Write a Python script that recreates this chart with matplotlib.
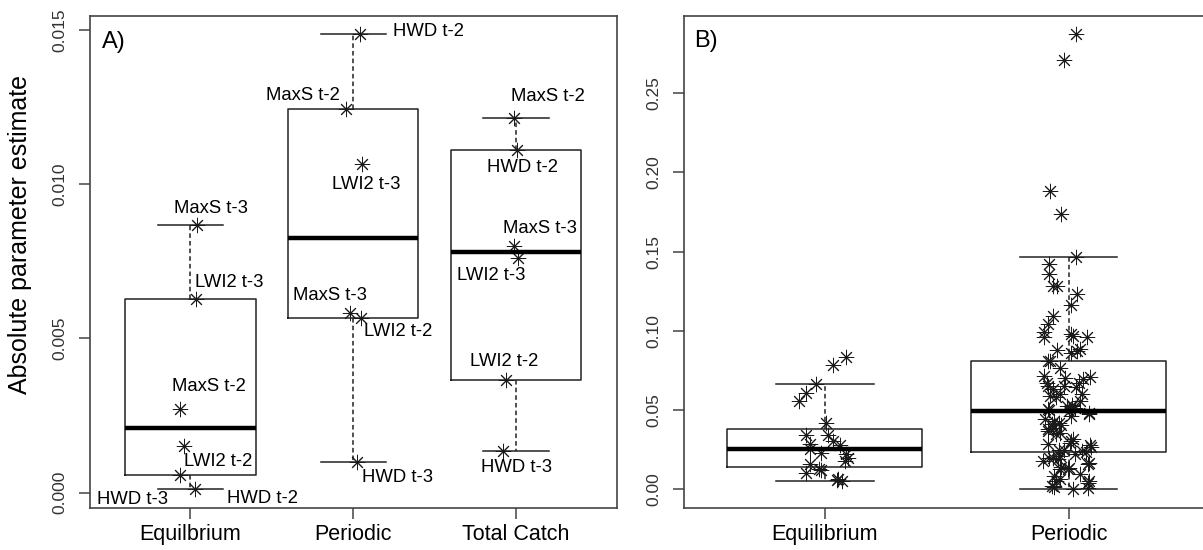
import numpy as np
import matplotlib
matplotlib.use('Agg')
import matplotlib.pyplot as plt

plt.rcParams['font.family'] = ['Liberation Sans', 'DejaVu Sans']

# ---- Panel A data: six lagged covariates per group ----
groups_a = ['Equilbrium', 'Periodic', 'Total Catch']
covariates = ['HWD t-2', 'HWD t-3', 'LWI2 t-2', 'LWI2 t-3', 'MaxS t-2', 'MaxS t-3']
equil_a = [0.000107, 0.00057, 0.001509, 0.00628, 0.002697, 0.008663]
periodic_a = [0.01486, 0.000991, 0.005665, 0.01066, 0.01243, 0.005827]
total_a = [0.01111, 0.001347, 0.003645, 0.007608, 0.01214, 0.007983]
# horizontal jitter (fraction of group spacing)
equil_a_jit = [0.031, -0.064, -0.038, 0.036, -0.064, 0.042]
periodic_a_jit = [0.041, 0.026, 0.047, 0.051, -0.044, -0.021]
total_a_jit = [0.004, -0.081, -0.059, 0.010, -0.015, -0.015]

# label offsets in pixels (dx, dy) from each point
label_offsets = [
    [(67, -9), (-47, -24), (34, -15), (33, 16), (29, 23), (14, 17)],
    [(69, 3), (40, -15), (37, -14), (5, -21), (-43, 14), (-20, 17)],
    [(6, -18), (14, -16), (-2, 19), (-26, -18), (34, 22), (26, 18)],
]

# ---- Panel B data ----
groups_b = ['Equilibrium', 'Periodic']
equil_b = [0.0838, 0.0785, 0.0667, 0.0610, 0.0557, 0.0417, 0.0343, 0.0343,
           0.0305, 0.0284, 0.0278, 0.0253, 0.0232, 0.0221, 0.0196, 0.0179,
           0.0162, 0.0125, 0.0120, 0.0101, 0.0068, 0.0051, 0.0060]
equil_b_jit = [0.087, 0.035, -0.035, -0.076, -0.106, 0.005, -0.079, 0.011,
               0.032, -0.063, 0.063, -0.063, -0.016, 0.087, 0.094, 0.082,
               -0.060, -0.024, -0.016, -0.076, 0.055, 0.071, 0.050]
periodic_b = [0.2872, 0.2708, 0.1882, 0.1735, 0.1468, 0.1420, 0.1357, 0.1283,
              0.1283, 0.1230, 0.1163, 0.1094, 0.1041, 0.0993, 0.0963, 0.0978,
              0.0967, 0.0961, 0.0888, 0.0875, 0.0858, 0.0877, 0.0812, 0.0808,
              0.0768, 0.0715, 0.0709, 0.0705, 0.0694, 0.0673, 0.0673, 0.0655,
              0.0650, 0.0648, 0.0631, 0.0599, 0.0599, 0.0590, 0.0583, 0.0560,
              0.0535, 0.0526, 0.0526, 0.0515, 0.0505, 0.0498, 0.0494, 0.0484,
              0.0478, 0.0465, 0.0442, 0.0430, 0.0420, 0.0410, 0.0405, 0.0389,
              0.0380, 0.0368, 0.0358, 0.0350, 0.0316, 0.0305, 0.0295, 0.0284,
              0.0280, 0.0265, 0.0250, 0.0245, 0.0240, 0.0236, 0.0221, 0.0210,
              0.0200, 0.0195, 0.0190, 0.0179, 0.0165, 0.0158, 0.0140, 0.0135,
              0.0126, 0.0126, 0.0095, 0.0082, 0.0063, 0.0050, 0.0050, 0.0042,
              0.0040, 0.0021, 0.0012, 0.0010, 0.0000]
periodic_b_jit = [0.030, -0.017, -0.077, -0.033, 0.030, -0.080, -0.080, -0.066,
                  -0.047, 0.035, 0.008, -0.063, -0.084, -0.100, -0.100, 0.008,
                  0.016, 0.077, 0.046, 0.035, 0.008, -0.049, -0.084, -0.075,
                  -0.036, -0.100, 0.087, -0.016, 0.060, 0.043, -0.090, -0.085,
                  -0.020, 0.030, -0.063, -0.036, 0.053, -0.075, -0.050, 0.045,
                  0.012, 0.012, -0.008, 0.025, -0.085, -0.080, 0.000, 0.084,
                  0.083, 0.010, -0.097, -0.060, -0.040, -0.070, -0.030, -0.063,
                  -0.085, -0.084, -0.036, -0.050, 0.018, 0.010, 0.004, -0.084,
                  0.087, 0.090, -0.040, -0.020, 0.055, 0.070, 0.025, -0.036,
                  -0.063, -0.080, -0.045, -0.104, 0.085, 0.081, -0.030, 0.000,
                  -0.036, -0.003, 0.046, -0.060, -0.036, -0.050, 0.085, 0.081,
                  0.080, -0.070, -0.060, 0.081, 0.018]


def fivenum(x):
    x = np.sort(np.asarray(x, dtype=float))
    n = len(x)
    n4 = np.floor((n + 3) / 2) / 2
    d = np.array([1, n4, (n + 1) / 2, n + 1 - n4, n]) - 1
    return 0.5 * (x[np.floor(d).astype(int)] + x[np.ceil(d).astype(int)])


def box_stats(x):
    x = np.asarray(x, dtype=float)
    _, q1, med, q3, _ = fivenum(x)
    iqr = q3 - q1
    inside = x[(x >= q1 - 1.5 * iqr) & (x <= q3 + 1.5 * iqr)]
    return dict(med=med, q1=q1, q3=q3, whislo=inside.min(), whishi=inside.max(), fliers=[])


def r_ylim(*series):
    allv = np.concatenate([np.asarray(s) for s in series])
    lo, hi = allv.min(), allv.max()
    pad = 0.04 * (hi - lo)
    return lo - pad, hi + pad


def draw_boxes(ax, data):
    pos = np.arange(1, len(data) + 1)
    ax.bxp([box_stats(d) for d in data], positions=pos, widths=0.8, capwidths=0.4,
           showfliers=False, manage_ticks=False,
           boxprops=dict(color='#222222', lw=1.1),
           whiskerprops=dict(color='#222222', lw=1.1, ls=(0, (3, 2))),
           capprops=dict(color='#222222', lw=1.1),
           medianprops=dict(color='black', lw=3.2, solid_capstyle='butt'))


def style_axes(ax, ticks, fmt, names):
    for sp in ax.spines.values():
        sp.set_color('#444444')
        sp.set_linewidth(1.2)
    ax.set_yticks(ticks)
    ax.set_yticklabels([fmt % t for t in ticks], rotation=90, va='center',
                       fontsize=12.5, color='#333333')
    ax.set_xticks(np.arange(1, len(names) + 1))
    ax.set_xticklabels(names, fontsize=15.5)
    ax.tick_params(axis='both', length=8, width=1.1, color='#444444')
    ax.tick_params(axis='y', pad=8)
    ax.tick_params(axis='x', pad=4)


star = dict(ls='none', marker=(8, 2, 0), ms=11, mec='#1a1a1a', mew=0.7)

fig = plt.figure(figsize=(12.03, 5.5), dpi=100)
axA = fig.add_axes([89.5 / 1203, 1 - 507.5 / 550, 527.5 / 1203, 491.5 / 550])
axB = fig.add_axes([683.5 / 1203, 1 - 507.5 / 550, 526.5 / 1203, 491.5 / 550])

# Panel A
data_a = [equil_a, periodic_a, total_a]
jit_a = [equil_a_jit, periodic_a_jit, total_a_jit]
draw_boxes(axA, data_a)
for i, (vals, jit) in enumerate(zip(data_a, jit_a)):
    xs = i + 1 + np.asarray(jit)
    axA.plot(xs, vals, **star)
    for name, x, y, off in zip(covariates, xs, vals, label_offsets[i]):
        axA.annotate(name, (x, y), xytext=off, textcoords='offset pixels',
                     ha='center', va='center', fontsize=13.3)
axA.set_xlim(0.38, 3.62)
axA.set_ylim(*r_ylim(*data_a))
style_axes(axA, [0.0, 0.005, 0.010, 0.015], '%.3f', groups_a)
axA.text(0.023, 0.948, 'A)', transform=axA.transAxes, fontsize=17, ha='left', va='center')

# Panel B
data_b = [equil_b, periodic_b]
jit_b = [equil_b_jit, periodic_b_jit]
draw_boxes(axB, data_b)
for i, (vals, jit) in enumerate(zip(data_b, jit_b)):
    axB.plot(i + 1 + np.asarray(jit), vals, **star)
axB.set_xlim(0.42, 2.58)
axB.set_ylim(*r_ylim(*data_b))
style_axes(axB, [0.0, 0.05, 0.10, 0.15, 0.20, 0.25], '%.2f', groups_b)
axB.text(0.02, 0.95, 'B)', transform=axB.transAxes, fontsize=17, ha='left', va='center')

fig.text(20 / 1203, 1 - 234 / 550, 'Absolute parameter estimate', rotation=90,
         ha='center', va='center', fontsize=18)

fig.savefig('out.png', dpi=100)
